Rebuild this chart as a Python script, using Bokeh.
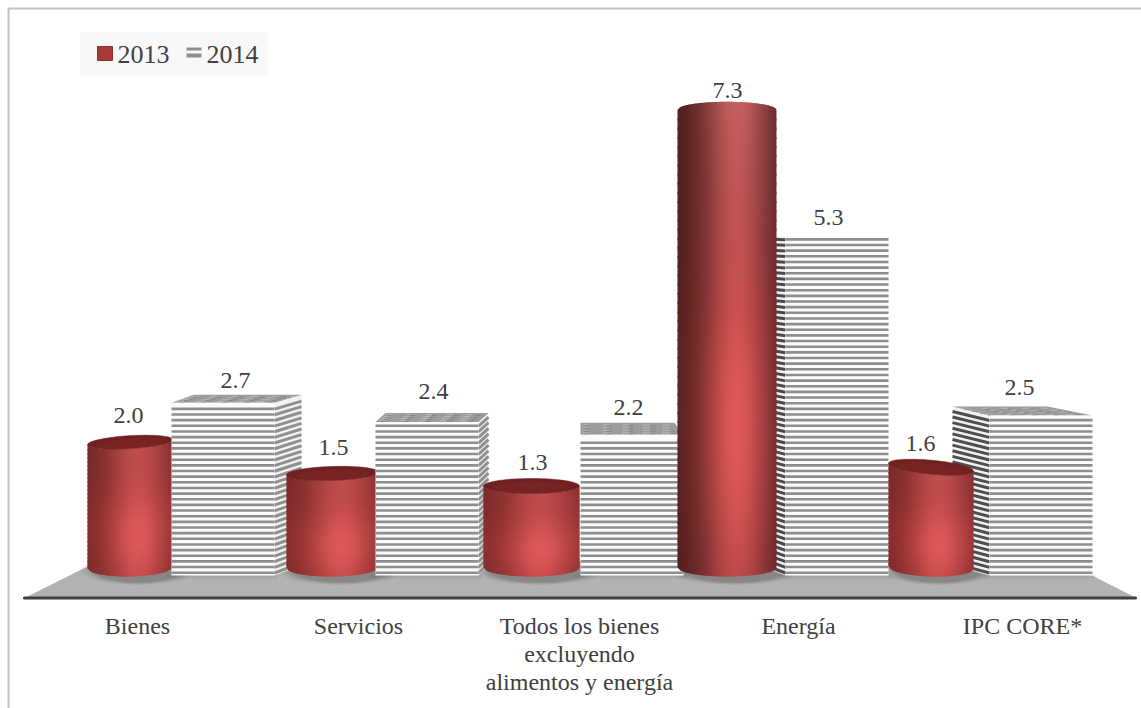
import numpy as np
from bokeh.plotting import figure
from bokeh.models import Range1d
from bokeh.core.properties import value
from bokeh.embed import file_html
from bokeh.resources import INLINE

categories = ["Bienes", "Servicios", "Todos los bienes\nexcluyendo\nalimentos y energía", "Energía", "IPC CORE*"]
values_2013 = [2.0, 1.5, 1.3, 7.3, 1.6]
values_2014 = [2.7, 2.4, 2.2, 5.3, 2.5]
years = ["2013", "2014"]

# ---- layout of the fake 3D scene (page pixels / px offsets), not data ----
W, H = 1141, 708
BASE_Y = 575.0
PPU = 64.0
cyl_left = [87, 286, 483, 677, 888]
cyl_right = [172, 378, 579, 776, 973]
cyl_tilt = [-0.06, -0.03, 0.0, 0.0, 0.09]
cyl_b = [6.5, 7, 7.5, 8, 7]
box_left = [171, 375, 580, 785, 989]
box_w = 103
box_back_l = [22, 10, 0, -26, -37]
box_back_r = [27, 10, -9, -30, -45]
box_top_dy = [8, 9, 12, 1, 9]
side_stripe = ["#909090", "#909090", "#909090", "#4a4a4a", "#4f4f4f"]
lab13_x = [128, 333, 532, 727, 920]
lab13_y = [415, 447, 462, 90, 443]
lab14_x = [235, 433, 628, 828, 1019]
lab14_y = [380, 391, 407, 217, 387]
cat_x = [137, 358, 579, 798, 1022]
TXT = "#404040"
FONT = value("Liberation Serif")

def Y(px):            # page pixel to value axis
    return (BASE_Y - np.asarray(px, dtype=float)) / PPU

p = figure(width=W, height=H, output_backend="svg", toolbar_location=None,
           x_range=Range1d(0, W), y_range=Range1d(float(Y(H)), float(Y(0))),
           min_border=0, outline_line_color=None, background_fill_color="white",
           border_fill_color="white", x_axis_type="linear")
p.axis.visible = False
p.grid.visible = False

# chart border (left and top; the rest is cut off)
p.line([8, 8, 1141], [Y(708), Y(8), Y(8)], line_color="#c4c4c4", line_width=2)

# floor
p.patch([25, 1135, 1062, 95], Y([597, 597, 560, 562]), fill_color="#b2b2b2", line_color=None)

# soft shadows on floor
for i in range(5):
    cx = (cyl_left[i] + cyl_right[i]) / 2 + 8
    w = cyl_right[i] - cyl_left[i]
    for k, a in zip([1.36, 1.28, 1.2, 1.12, 1.04], [0.04, 0.05, 0.07, 0.09, 0.11]):
        p.ellipse(x=cx, y=float(Y(570)), width=w * k, height=2 * (3 + 8.5 * k) / PPU,
                  fill_color="#303030", fill_alpha=a, line_color=None)
    p.quad(left=box_left[i] - 6, right=box_left[i] + box_w + 3, top=float(Y(574)), bottom=float(Y(578)),
           fill_color="#505050", fill_alpha=0.10, line_color=None)

def shade(u, v, h):
    L = np.exp(-((u - 0.6) / 0.36) ** 2)
    V = 0.62 + 0.38 * np.exp(-((v - 0.68) / 0.34) ** 2)
    t = min(1.0, h / 400.0)
    dark = np.array([150, 48, 48]) * (1 - t) + np.array([84, 30, 30]) * t
    bright = np.array([222, 88, 88])
    edge_v = 0.75 + 0.25 * V
    c = dark * edge_v + (bright - dark * edge_v) * (L * V)
    # the tall cylinder keeps a pale highlight near its top
    c = c + np.array([28, 30, 30]) * t * L * max(0.0, 1 - v / 0.45)
    return "#%02x%02x%02x" % tuple(int(round(x)) for x in c)

def draw_cylinder(i):
    val = values_2013[i]
    l, r = cyl_left[i], cyl_right[i]
    a = (r - l) / 2.0
    cx = (l + r) / 2.0
    k = cyl_tilt[i]
    bt = cyl_b[i]
    bb = 9.0
    top_c = 567.0 - val * 62.7
    base_c = 567.0
    nx = 46
    h = base_c - top_c
    ny = int(np.clip(h / 4, 24, 50))
    tall = h > 300        # seen from below: the top surface does not show
    us = np.linspace(0, 1, nx + 1)
    vs = np.linspace(0, 1, ny + 1)
    xs = []; ys = []; cols = []
    def ytop(u):
        s = 2 * u - 1
        arc = np.sqrt(np.clip(1 - s * s, 0, 1)) * bt
        return top_c + k * a * s + (-arc if tall else arc)
    def ybot(u):
        s = 2 * u - 1
        return base_c + k * 0.3 * a * s + np.sqrt(np.clip(1 - s * s, 0, 1)) * bb
    ou = 1.2 / (r - l)
    ov = 2.0 / h
    for ix in range(nx):
        u0 = us[ix]; u1 = min(1.0, us[ix + 1] + ou)
        for iy in range(ny):
            v0 = vs[iy]; v1 = min(1.0, vs[iy + 1] + ov)
            px = [l + u0 * (r - l), l + u1 * (r - l), l + u1 * (r - l), l + u0 * (r - l)]
            py = [ytop(u0) + v0 * (ybot(u0) - ytop(u0)), ytop(u1) + v0 * (ybot(u1) - ytop(u1)),
                  ytop(u1) + v1 * (ybot(u1) - ytop(u1)), ytop(u0) + v1 * (ybot(u0) - ytop(u0))]
            xs.append(px); ys.append(Y(py).tolist())
            cols.append(shade((us[ix] + us[ix + 1]) / 2, (vs[iy] + vs[iy + 1]) / 2, h))
    p.patches(xs, ys, fill_color=cols, line_color=None)
    if not tall:
        t = np.linspace(0, 2 * np.pi, 90)
        ex = cx + a * np.cos(t)
        ey = top_c + k * a * np.cos(t) + bt * np.sin(t)
        p.patch(ex, Y(ey), fill_color="#6f2020", line_color="#6f2020", line_width=0.5)
        ey2 = top_c + 1.5 + k * a * np.cos(t) + (bt - 1.5) * np.sin(t)
        p.patch(cx + 0.8 * a * np.cos(t), Y(ey2), fill_color="#7d2626", fill_alpha=0.55, line_color=None)

def draw_box(i):
    val = values_2014[i]
    l = box_left[i]; r = l + box_w
    top = BASE_Y - val * PPU
    dl, dr = box_back_l[i], box_back_r[i]
    dy = box_top_dy[i]
    if dl < 0:
        sx_f, sx_b = l, l + dl
    else:
        sx_f, sx_b = r, r + dr
    if sx_f != sx_b and not (dl == 0):
        p.patch([sx_f, sx_b, sx_b, sx_f], Y([top, top - dy, BASE_Y - 10, BASE_Y]),
                fill_color="#f2f2f2", line_color=None)
        n = np.arange(BASE_Y - 2.5, top + 1, -5.65)
        fr = (BASE_Y - n) / max(BASE_Y - top, 1)
        back_shift = 10 + (dy - 10) * fr
        p.segment(x0=[sx_f] * len(n), y0=Y(n), x1=[sx_b] * len(n), y1=Y(n - back_shift),
                  line_color=side_stripe[i], line_width=3)
    if dy > 2:
        poly_x = [l, l + dl, r + dr, r]
        poly_y = [top, top - dy, top - dy, top]
        p.patch(poly_x, Y(poly_y), fill_color="#9c9c9c", line_color=None)
        for f in np.arange(0.15, 1.0, 0.22):
            yy = top - dy * f
            p.line([l + dl * f + 2, r + dr * f - 2], Y([yy, yy]), line_color="#d6d6d6",
                   line_width=0.8, line_dash="7 13", line_alpha=0.6)
            p.line([l + dl * f + 4, r + dr * f - 5], Y([yy + 1, yy + 1]), line_color="#6e6e6e",
                   line_width=0.8, line_dash="5 17", line_alpha=0.6)
    p.quad(left=l, right=r, top=val, bottom=0, fill_color="#fbfbfb", line_color=None)
    ys = np.arange(BASE_Y - 2.8, top + 2.5, -5.65)
    p.segment(x0=[l] * len(ys), y0=Y(ys), x1=[r] * len(ys), y1=Y(ys), line_color="#8e8e8e", line_width=2.6)

for i in [0, 1, 2]:
    draw_cylinder(i)
    draw_box(i)
draw_box(3); draw_cylinder(3)
draw_box(4); draw_cylinder(4)

p.line([24, 1135], Y([597.5, 597.5]), line_color="#3f3f3f", line_width=3.2, line_cap="round")

p.text(x=lab13_x, y=Y(lab13_y).tolist(), text=["%.1f" % v for v in values_2013],
       text_font=FONT, text_font_size="24px", text_color=TXT, text_align="center", text_baseline="middle")
p.text(x=lab14_x, y=Y(lab14_y).tolist(), text=["%.1f" % v for v in values_2014],
       text_font=FONT, text_font_size="24px", text_color=TXT, text_align="center", text_baseline="middle")

p.text(x=cat_x, y=[float(Y(612))] * 5, text=categories, text_font=FONT, text_font_size="24px",
       text_color=TXT, text_align="center", text_baseline="top", text_line_height=1.08)

p.quad(left=80, right=267, top=float(Y(32)), bottom=float(Y(75)), fill_color="#f8f8f8", line_color=None)
p.quad(left=97, right=112, top=float(Y(46)), bottom=float(Y(60)), fill_color="#aa3a3a", line_color="#8e2e2e", line_width=1)
p.quad(left=[186, 186], right=[201, 201], top=Y([47, 53]).tolist(), bottom=Y([50, 57]).tolist(),
       fill_color="#8e8e8e", line_color=None)
p.text(x=[117, 206], y=[float(Y(54))] * 2, text=years, text_font=FONT, text_font_size="26px",
       text_color=TXT, text_align="left", text_baseline="middle")

open("out.html", "w").write(file_html(p, INLINE))
